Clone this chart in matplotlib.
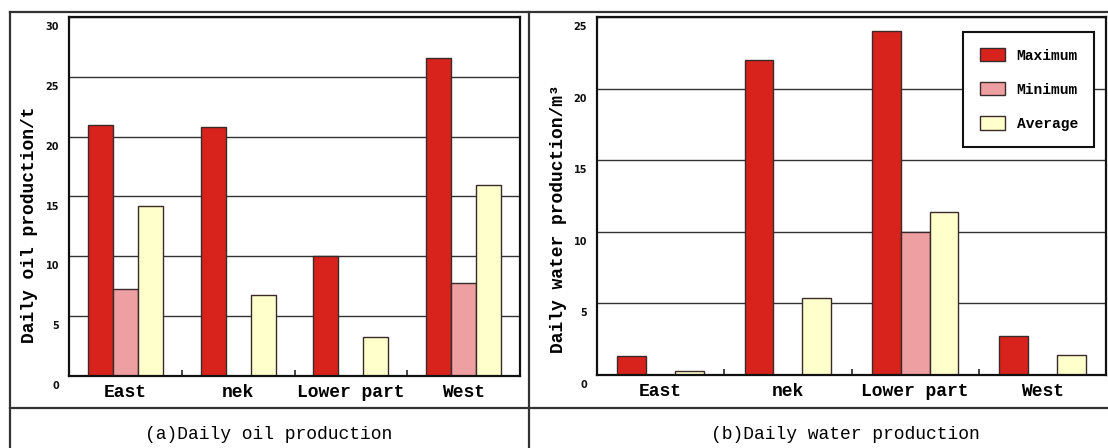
import numpy as np
import matplotlib
matplotlib.use("Agg")
import matplotlib.pyplot as plt
from matplotlib.lines import Line2D
from matplotlib.transforms import ScaledTranslation, blended_transform_factory

categories = ["East", "nek", "Lower part", "West"]
series_names = ["Maximum", "Minimum", "Average"]
oil_max = [21.0, 20.8, 10.0, 26.6]
oil_min = [7.3, 0.0, 0.0, 7.8]
oil_avg = [14.2, 6.8, 3.3, 16.0]
water_max = [1.3, 22.0, 24.0, 2.7]
water_min = [0.0, 0.0, 10.0, 0.0]
water_avg = [0.3, 5.4, 11.4, 1.4]
oil_yticks = [0, 5, 10, 15, 20, 25, 30]
water_yticks = [0, 5, 10, 15, 20, 25]
captions = ["(a)Daily oil production", "(b)Daily water production"]
ylabels = ["Daily oil production/t", "Daily water production/m³"]

colors = ["#D8231D", "#EE9FA2", "#FFFFCC"]
edge = "#3a2a2a"
W, H = 1108, 448
MONO = "Liberation Mono"

fig = plt.figure(figsize=(W / 100, H / 100), dpi=100)
fig.patch.set_facecolor("white")

def fx(x):
    return x / W

def fy(y):
    return 1 - y / H

def make_panel(rect, series, yticks, ylabel, label_xy, width):
    x0, y0, x1, y1 = rect
    ax = fig.add_axes([fx(x0), fy(y1), fx(x1) - fx(x0), fy(y0) - fy(y1)])
    x = np.arange(len(categories))
    for i, (vals, c, name) in enumerate(zip(series, colors, series_names)):
        ax.bar(x + (i - 1) * width, vals, width, color=c, edgecolor=edge,
               linewidth=1.0, label=name, zorder=2)
    ax.set_xlim(-0.5, len(categories) - 0.5)
    ax.set_ylim(yticks[0], yticks[-1])
    ax.set_yticks(yticks)
    ax.yaxis.grid(True, color="#333333", linewidth=1.0, zorder=0)
    ax.set_axisbelow(True)
    ax.tick_params(axis="y", length=0, labelleft=False)
    trans = blended_transform_factory(ax.transAxes, ax.transData)
    off = ScaledTranslation(-10 / 100, -10 / 100, fig.dpi_scale_trans)
    for t in yticks:
        ax.text(0, t, str(t), transform=trans + off, ha="right", va="center",
                fontsize=7, fontweight="bold", family="DejaVu Sans", color="#111111")
    ax.set_xticks(x)
    ax.set_xticklabels(categories, fontsize=13, family=MONO, fontweight="bold")
    ax.tick_params(axis="x", which="major", length=0, pad=6)
    ax.set_xticks(x[:-1] + 0.5, minor=True)
    ax.tick_params(axis="x", which="minor", direction="in", length=4, width=1.2, color="#222222")
    for s in ax.spines.values():
        s.set_linewidth(1.6)
        s.set_color("#111111")
    ax.set_ylabel(ylabel, fontsize=13, family=MONO, fontweight="bold")
    ax.yaxis.set_label_coords(*label_xy)
    return ax

ax1 = make_panel((69, 17, 520, 376), [oil_max, oil_min, oil_avg], oil_yticks,
                 ylabels[0], (-0.069, 0.42), 0.222)
ax2 = make_panel((597, 17, 1106, 375), [water_max, water_min, water_avg], water_yticks,
                 ylabels[1], (-0.059, 0.436), 0.227)

leg = ax2.legend(loc="upper right", bbox_to_anchor=(fx(1094), fy(32)),
                 bbox_transform=fig.transFigure, frameon=True, fancybox=False,
                 framealpha=1, edgecolor="#111111",
                 prop={"family": MONO, "weight": "bold", "size": 10.5},
                 handlelength=1.75, handleheight=1.0, labelspacing=1.35,
                 borderpad=1.1, handletextpad=0.8, borderaxespad=0)
leg.get_frame().set_linewidth(1.5)

# table frame lines
lc = "#333333"
lw = 1.6
fig.add_artist(Line2D([fx(10), fx(10)], [fy(12), fy(448)], color=lc, lw=lw))
fig.add_artist(Line2D([fx(10), fx(1108)], [fy(12), fy(12)], color=lc, lw=lw))
fig.add_artist(Line2D([fx(529), fx(529)], [fy(12), fy(448)], color=lc, lw=lw))
fig.add_artist(Line2D([fx(10), fx(1108)], [fy(408), fy(408)], color=lc, lw=lw))

fig.text(fx(269), fy(434), captions[0], ha="center", va="center",
         fontsize=13, family=MONO)
fig.text(fx(845), fy(434), captions[1], ha="center", va="center",
         fontsize=13, family=MONO)

fig.savefig("out.png", dpi=100, facecolor="white")
